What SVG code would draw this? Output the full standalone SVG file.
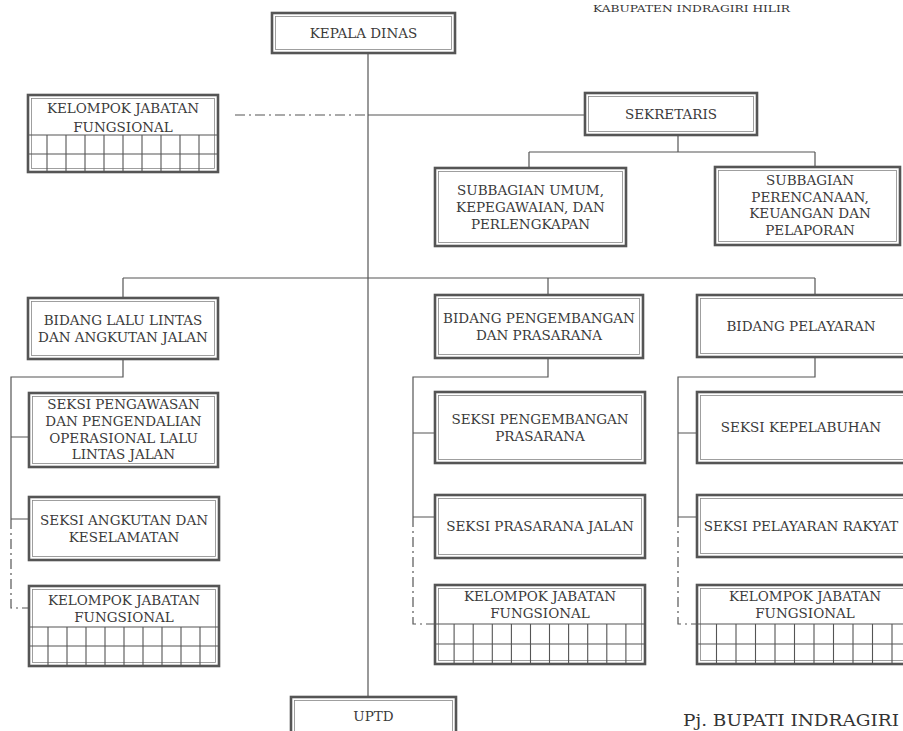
<svg xmlns="http://www.w3.org/2000/svg" width="903" height="731" viewBox="0 0 903 731">
<style>
.box{fill:#fff;stroke:#555;stroke-width:2.6}
.in{fill:none;stroke:#888;stroke-width:0.8}
.t{font-family:"DejaVu Serif","Liberation Serif",serif;font-size:13.5px;fill:#3a3a3a;text-anchor:middle}
.ln{stroke:#555;stroke-width:1.2;fill:none}
.dd{stroke-dasharray:10 4 2 4}
.gr{stroke:#555;stroke-width:1.1;fill:none}
</style>
<rect width="903" height="731" fill="#fff"/>
<text x="593" y="12" font-family="DejaVu Serif, serif" font-size="9.5" fill="#333" textLength="197" lengthAdjust="spacingAndGlyphs">KABUPATEN INDRAGIRI HILIR</text>
<g id="connectors">
<path class="ln" d="M368 53V697"/>
<path class="ln dd" d="M235 115H368"/>
<path class="ln" d="M368 115H585"/>
<path class="ln" d="M678 135V152M529 152H815M529 152V168M815 152V167"/>
<path class="ln" d="M123 278H815M123 278V298M548 278V295M815 278V295"/>
<path class="ln" d="M123 359V377H11V519M11 437H29M11 519H29"/>
<path class="ln dd" d="M11 519V608H29"/>
<path class="ln" d="M548 358V377H413V517M413 433H435M413 517H435"/>
<path class="ln dd" d="M413 517V624H435"/>
<path class="ln" d="M815 357V377H678V517M678 433H697M678 517H697"/>
<path class="ln dd" d="M678 517V624H697"/>
</g>
<g id="kepala-dinas">
<rect class="box" x="272" y="13" width="183" height="40"/><rect class="in" x="275.5" y="16.5" width="176" height="33"/>
<text class="t" x="363.5" y="37.8">KEPALA DINAS</text>
</g>
<g id="kjf-top">
<rect class="box" x="28" y="95" width="190" height="77"/><rect class="in" x="31.5" y="98.5" width="183" height="70"/>
<text class="t" x="123" y="113">KELOMPOK JABATAN</text>
<text class="t" x="123" y="131.5">FUNGSIONAL</text>
<path class="gr" d="M28 135H218M28 154H218M47 135V172M66 135V172M85 135V172M104 135V172M123 135V172M142 135V172M161 135V172M180 135V172M199 135V172"/>
</g>
<g id="sekretaris">
<rect class="box" x="585" y="93" width="172" height="42"/><rect class="in" x="588.5" y="96.5" width="165" height="35"/>
<text class="t" x="671" y="118.8">SEKRETARIS</text>
</g>
<g id="subbagian-umum">
<rect class="box" x="435" y="168" width="191" height="78"/><rect class="in" x="438.5" y="171.5" width="184" height="71"/>
<text class="t" x="530.5" y="194.9">SUBBAGIAN UMUM,</text>
<text class="t" x="530.5" y="211.9">KEPEGAWAIAN, DAN</text>
<text class="t" x="530.5" y="228.9">PERLENGKAPAN</text>
</g>
<g id="subbagian-perencanaan">
<rect class="box" x="715" y="167" width="185" height="78"/><rect class="in" x="718.5" y="170.5" width="178" height="71"/>
<text class="t" x="810" y="184.9">SUBBAGIAN</text>
<text class="t" x="810" y="201.9">PERENCANAAN,</text>
<text class="t" x="810" y="217.9">KEUANGAN DAN</text>
<text class="t" x="810" y="234.9">PELAPORAN</text>
</g>
<g id="bidang-llaj">
<rect class="box" x="28" y="298" width="190" height="61"/><rect class="in" x="31.5" y="301.5" width="183" height="54"/>
<text class="t" x="123" y="325.2">BIDANG LALU LINTAS</text>
<text class="t" x="123" y="342.2">DAN ANGKUTAN JALAN</text>
</g>
<g id="seksi-pengawasan">
<rect class="box" x="29" y="393" width="189" height="74"/><rect class="in" x="32.5" y="396.5" width="182" height="67"/>
<text class="t" x="123.5" y="409.2">SEKSI PENGAWASAN</text>
<text class="t" x="123.5" y="426">DAN PENGENDALIAN</text>
<text class="t" x="123.5" y="442.7">OPERASIONAL LALU</text>
<text class="t" x="123.5" y="459.2">LINTAS JALAN</text>
</g>
<g id="seksi-angkutan">
<rect class="box" x="29" y="497" width="190" height="63"/><rect class="in" x="32.5" y="500.5" width="183" height="56"/>
<text class="t" x="124" y="524.9">SEKSI ANGKUTAN DAN</text>
<text class="t" x="124" y="541.9">KESELAMATAN</text>
</g>
<g id="kjf-llaj">
<rect class="box" x="29" y="586" width="190" height="80"/><rect class="in" x="32.5" y="589.5" width="183" height="73"/>
<text class="t" x="124" y="604.9">KELOMPOK JABATAN</text>
<text class="t" x="124" y="621.9">FUNGSIONAL</text>
<path class="gr" d="M29 627H219M29 646H219M48 627V666M67 627V666M86 627V666M105 627V666M124 627V666M143 627V666M162 627V666M181 627V666M200 627V666"/>
</g>
<g id="bidang-pengembangan">
<rect class="box" x="435" y="295" width="208" height="63"/><rect class="in" x="438.5" y="298.5" width="201" height="56"/>
<text class="t" x="539" y="323.2">BIDANG PENGEMBANGAN</text>
<text class="t" x="539" y="340.2">DAN PRASARANA</text>
</g>
<g id="seksi-pengembangan">
<rect class="box" x="435" y="392" width="210" height="71"/><rect class="in" x="438.5" y="395.5" width="203" height="64"/>
<text class="t" x="540" y="424.2">SEKSI PENGEMBANGAN</text>
<text class="t" x="540" y="441.2">PRASARANA</text>
</g>
<g id="seksi-prasarana-jalan">
<rect class="box" x="435" y="495" width="210" height="63"/><rect class="in" x="438.5" y="498.5" width="203" height="56"/>
<text class="t" x="540" y="531.4">SEKSI PRASARANA JALAN</text>
</g>
<g id="kjf-pengembangan">
<rect class="box" x="435" y="585" width="210" height="79"/><rect class="in" x="438.5" y="588.5" width="203" height="72"/>
<text class="t" x="540" y="600.9">KELOMPOK JABATAN</text>
<text class="t" x="540" y="617.9">FUNGSIONAL</text>
<path class="gr" d="M435 624H645M435 644H645M454.1 624V664M473.2 624V664M492.3 624V664M511.4 624V664M530.5 624V664M549.5 624V664M568.6 624V664M587.7 624V664M606.8 624V664M625.9 624V664"/>
</g>
<g id="bidang-pelayaran">
<rect class="box" x="697" y="295" width="210" height="62"/><rect class="in" x="700.5" y="298.5" width="203" height="55"/>
<text class="t" x="801" y="330.9">BIDANG PELAYARAN</text>
</g>
<g id="seksi-kepelabuhan">
<rect class="box" x="697" y="392" width="210" height="71"/><rect class="in" x="700.5" y="395.5" width="203" height="64"/>
<text class="t" x="801" y="432.4">SEKSI KEPELABUHAN</text>
</g>
<g id="seksi-pelayaran-rakyat">
<rect class="box" x="697" y="495" width="210" height="62"/><rect class="in" x="700.5" y="498.5" width="203" height="55"/>
<text class="t" x="801" y="530.9">SEKSI PELAYARAN RAKYAT</text>
</g>
<g id="kjf-pelayaran">
<rect class="box" x="697" y="585" width="215" height="79"/><rect class="in" x="700.5" y="588.5" width="208" height="72"/>
<text class="t" x="805" y="600.9">KELOMPOK JABATAN</text>
<text class="t" x="805" y="617.9">FUNGSIONAL</text>
<path class="gr" d="M697 624H912M697 644H912M716.5 624V664M736 624V664M755.5 624V664M775 624V664M794.5 624V664M814 624V664M833.5 624V664M853 624V664M872.5 624V664M892 624V664"/>
</g>
<g id="uptd">
<rect class="box" x="291" y="697" width="165" height="40"/><rect class="in" x="294.5" y="700.5" width="158" height="33"/>
<text class="t" x="373.5" y="721">UPTD</text>
</g>
<text x="683" y="726" font-family="DejaVu Serif, serif" font-size="17.5" fill="#333" textLength="216" lengthAdjust="spacingAndGlyphs">Pj. BUPATI INDRAGIRI</text>
</svg>
